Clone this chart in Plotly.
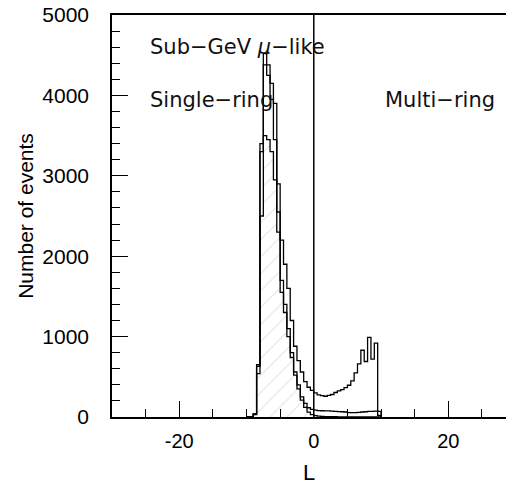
import plotly.graph_objects as go

# ---- data ----
bin_low = [-10.0, -9.5, -9.0, -8.5, -8.0, -7.5, -7.0, -6.5, -6.0, -5.5,
           -5.0, -4.5, -4.0, -3.5, -3.0, -2.5, -2.0, -1.5, -1.0, -0.5,
           0.0, 0.5, 1.0, 1.5, 2.0, 2.5, 3.0, 3.5, 4.0, 4.5,
           5.0, 5.5, 6.0, 6.5, 7.0, 7.5, 8.0, 8.5, 9.0, 9.5]
bin_width = 0.5

total_events = [0, 0, 40, 650, 3400, 4520, 4380, 4150, 3900, 2900,
                2200, 1900, 1600, 1200, 880, 700, 560, 440, 370, 330,
                300, 275, 265, 258, 268, 280, 305, 325, 340, 365,
                395, 450, 550, 660, 830, 690, 990, 720, 920, 70]

middle_events = [0, 0, 38, 630, 3300, 4380, 4250, 3950, 3450, 2550,
                 1700, 1400, 1100, 800, 560, 400, 250, 170, 115, 95,
                 85, 80, 78, 75, 75, 72, 70, 68, 65, 62,
                 55, 55, 55, 58, 62, 65, 70, 70, 72, 20]

hatched_events = [0, 0, 30, 540, 2500, 3500, 3450, 3300, 2950, 2300,
                  1550, 1300, 1000, 740, 520, 350, 210, 120, 60, 30,
                  18, 10, 7, 5, 4, 3, 3, 2, 2, 2,
                  1, 1, 1, 1, 1, 1, 1, 1, 1, 0]

x_tick_vals = [-20, 0, 20]
x_tick_text = ["-20", "0", "20"]
y_tick_vals = [0, 1000, 2000, 3000, 4000, 5000]
y_tick_text = ["0", "1000", "2000", "3000", "4000", "5000"]


def step(values):
    xs = list(bin_low) + [bin_low[-1] + bin_width]
    ys = list(values) + [0]
    return xs, ys


fig = go.Figure()

hx, hy = step(hatched_events)
fig.add_trace(go.Scatter(
    x=hx, y=hy, mode="lines", line=dict(shape="hv", color="black", width=1.3),
    fill="tozeroy", fillcolor="rgba(0,0,0,0)",
    fillpattern=dict(shape="/", fgcolor="#a0a0a0", bgcolor="white", size=12, solidity=0.07),
    showlegend=False, hoverinfo="skip"))

mx, my = step(middle_events)
fig.add_trace(go.Scatter(
    x=mx, y=my, mode="lines", line=dict(shape="hv", color="black", width=1.3),
    showlegend=False, hoverinfo="skip"))

tx, ty = step(total_events)
fig.add_trace(go.Scatter(
    x=tx, y=ty, mode="lines", line=dict(shape="hv", color="black", width=1.3),
    showlegend=False, hoverinfo="skip"))

fig.add_shape(type="line", x0=0, x1=0, y0=0, y1=5000, xref="x", yref="y",
              line=dict(color="black", width=1.5))

ann_font = dict(family="DejaVu Sans", size=21, color="#111111")
fig.add_annotation(x=-24.7, y=4600, xref="x", yref="y", xanchor="left", yanchor="middle",
                   text="Sub\u2212GeV <i>\u03bc</i>\u2212like", showarrow=False, font=ann_font)
fig.add_annotation(x=-24.7, y=3940, xref="x", yref="y", xanchor="left", yanchor="middle",
                   text="Single\u2212ring", showarrow=False, font=ann_font)
fig.add_annotation(x=10.3, y=3940, xref="x", yref="y", xanchor="left", yanchor="middle",
                   text="Multi\u2212ring", showarrow=False, font=ann_font)

fig.update_xaxes(
    range=[-30, 28.58], showgrid=False, zeroline=False,
    showline=True, linecolor="black", linewidth=1.5, mirror=True,
    ticks="inside", ticklen=16, tickwidth=1.2, tickcolor="black",
    tickvals=x_tick_vals, ticktext=x_tick_text,
    minor=dict(ticks="inside", ticklen=8, tickwidth=1.2, tickcolor="black", dtick=5, tick0=0),
    tickfont=dict(family="Liberation Sans", size=20, color="black"),
    ticklabelstandoff=5,
    title=dict(text="L", font=dict(family="Liberation Sans", size=22, color="black"), standoff=19),
)
fig.update_yaxes(
    range=[0, 5000], showgrid=False, zeroline=False,
    showline=True, linecolor="black", linewidth=1.5,
    ticks="inside", ticklen=16, tickwidth=1.2, tickcolor="black",
    tickvals=y_tick_vals, ticktext=y_tick_text,
    minor=dict(ticks="inside", ticklen=8, tickwidth=1.2, tickcolor="black", dtick=200, tick0=0),
    tickfont=dict(family="Liberation Sans", size=21, color="black"),
    ticklabelstandoff=17,
    title=dict(text="Number of events", font=dict(family="Liberation Sans", size=21, color="black"), standoff=3),
)

fig.update_layout(
    width=506, height=485,
    margin=dict(l=112, r=0, t=15, b=68, autoexpand=False),
    paper_bgcolor="white", plot_bgcolor="white",
)

fig.write_html("out.html")
